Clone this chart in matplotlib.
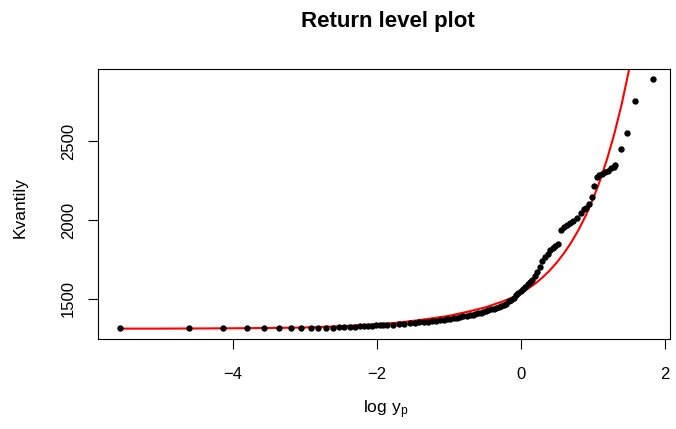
import numpy as np
import matplotlib
matplotlib.use("Agg")
import matplotlib.pyplot as plt

plt.rcParams['font.family'] = ['Liberation Sans', 'DejaVu Sans']

emp_x = [-5.57, -4.61, -4.13, -3.80, -3.56, -3.36, -3.19, -3.05, -2.92, -2.81,
         -2.70, -2.61, -2.53, -2.45, -2.37, -2.30, -2.24, -2.18, -2.12, -2.06,
         -2.01, -1.96, -1.91, -1.86, -1.77, -1.69, -1.62, -1.54, -1.47, -1.41,
         -1.35, -1.29, -1.23, -1.18, -1.12, -1.07, -1.02, -0.98, -0.93, -0.88,
         -0.84, -0.80, -0.75, -0.71, -0.67, -0.63, -0.60, -0.56, -0.52, -0.48,
         -0.45, -0.41, -0.38, -0.34, -0.31, -0.27, -0.24, -0.20, -0.17, -0.14,
         -0.10, -0.07, -0.04, 0.00, 0.03, 0.06, 0.10, 0.13, 0.16, 0.20,
         0.23, 0.27, 0.30, 0.33, 0.37, 0.41, 0.44, 0.48, 0.52, 0.56,
         0.60, 0.64, 0.68, 0.73, 0.78, 0.83, 0.88, 0.90, 0.94, 0.99,
         1.02, 1.05, 1.09, 1.13, 1.17, 1.21, 1.25, 1.29, 1.31, 1.39,
         1.47, 1.59, 1.83]
emp_y = [1312, 1312, 1312, 1312, 1312, 1313, 1313, 1314, 1315, 1316,
         1317, 1318, 1320, 1321, 1322, 1324, 1325, 1326, 1328, 1330,
         1331, 1333, 1334, 1335, 1337, 1339, 1342, 1345, 1348, 1350,
         1352, 1355, 1358, 1361, 1364, 1367, 1370, 1372, 1376, 1380,
         1384, 1388, 1392, 1396, 1400, 1404, 1408, 1412, 1417, 1422,
         1428, 1433, 1437, 1442, 1447, 1452, 1458, 1466, 1485, 1495,
         1508, 1522, 1535, 1548, 1562, 1578, 1595, 1608, 1620, 1645,
         1670, 1705, 1740, 1765, 1788, 1808, 1822, 1838, 1850, 1935,
         1955, 1968, 1980, 1992, 2015, 2045, 2070, 2078, 2103, 2150,
         2220, 2275, 2285, 2295, 2305, 2315, 2328, 2340, 2348, 2454,
         2553, 2757, 2897]

# fitted return level curve
fit_x = [-5.57, -5.0, -4.5, -4.0, -3.5, -3.0, -2.5, -2.0, -1.75, -1.5,
         -1.25, -1.0, -0.75, -0.5, -0.25, -0.1, 0.0, 0.1, 0.2, 0.3, 0.4,
         0.5, 0.6, 0.7, 0.8, 0.9, 1.0, 1.1, 1.2, 1.3, 1.4, 1.5, 1.6]
fit_y = [1311, 1311, 1312, 1313, 1315, 1318, 1326, 1339, 1347, 1360,
         1375, 1392, 1417, 1445, 1484, 1512, 1537, 1565, 1597, 1636, 1680,
         1732, 1791, 1859, 1938, 2028, 2133, 2253, 2393, 2553, 2738, 2952, 3198]

fig = plt.figure(figsize=(6.76, 4.29), dpi=100)
ax = fig.add_axes([98/676, 1-339/429, (670-98)/676, (339-69)/429])

ax.scatter(emp_x, emp_y, s=21, color='black', zorder=3, linewidths=0)
ax.plot(fit_x, fit_y, color='red', lw=1.5, zorder=2)

ax.set_xlim(-5.87, 2.07)
ax.set_ylim(1245, 2960)
ax.set_xticks([-4, -2, 0, 2])
ax.set_yticks([1500, 2000, 2500])
ax.tick_params(axis='both', length=7, width=0.8, labelsize=12, colors='black')
ax.tick_params(axis='x', pad=13)
ax.tick_params(axis='y', pad=9)
for lab in ax.get_yticklabels():
    lab.set_rotation(90)
    lab.set_va('center')
for sp in ax.spines.values():
    sp.set_linewidth(0.8)
    sp.set_color('black')

fig.text(388/676, 1-22/429, 'Return level plot', ha='center', va='center',
         fontsize=16, fontweight='bold')
fig.text(386/676, 1-410/429, r'$\mathregular{log\ y_p}$', ha='center', va='center', fontsize=12.5)
fig.text(20/676, 1-207/429, 'Kvantily', ha='center', va='center', rotation=90, fontsize=12.5)

fig.savefig('out.png', dpi=100)
